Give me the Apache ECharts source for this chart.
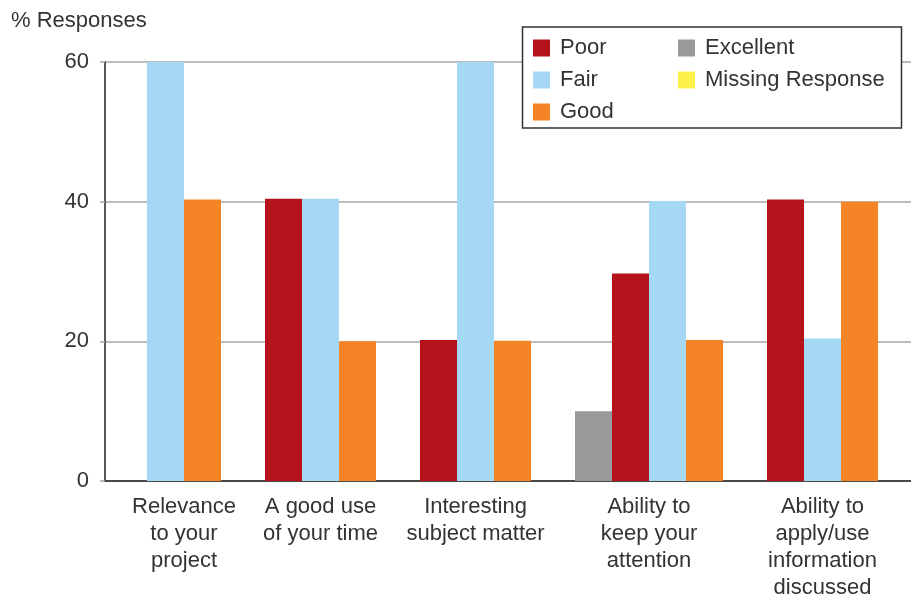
<!DOCTYPE html>
<html>
<head>
<meta charset="utf-8">
<script src="https://cdn.jsdelivr.net/npm/echarts@6/dist/echarts.min.js"></script>
<style>html,body{margin:0;padding:0;background:#fff;}#c{width:911px;height:601px;}</style>
</head>
<body>
<div id="c"></div>
<script>
// ---- data ----
const categories = ['Relevance\nto your\nproject', 'A good use\nof your time', 'Interesting\nsubject matter', 'Ability to\nkeep your\nattention', 'Ability to\napply/use\ninformation\ndiscussed'];
const seriesNames = ['Excellent', 'Poor', 'Fair', 'Good', 'Missing Response'];
const excellent = [0, 0, 0, 10, 0];
const poor = [0, 40.4, 20.2, 29.7, 40.3];
const fair = [60, 40.4, 60, 40.1, 20.4];
const good = [40.3, 20.0, 20.1, 20.2, 40.0];
const missing = [0, 0, 0, 0, 0];
const yTicks = [0, 20, 40, 60];

// ---- layout (in bar-width units) ----
const barPx = 37;
const leftPad = 42 / barPx;
const groupGap = 44 / barPx;
const plotWidthPx = 806;
const xMax = plotWidthPx / barPx;

const values = [excellent, poor, fair, good, missing];
const colors = ['#97999b', '#b5121b', '#a5d8f3', '#f58426', '#fdf04a'];

// compute positions: only non-zero bars are placed, packed within each category
const seriesData = values.map(() => []);
const centers = [];
let cursor = leftPad;
categories.forEach((c, ci) => {
  let j = 0;
  values.forEach((arr, si) => {
    if (arr[ci] > 0) {
      seriesData[si].push([cursor + j + 0.5, arr[ci]]);
      j++;
    }
  });
  centers.push(cursor + j / 2);
  cursor += j + groupGap;
});

const font = '"Liberation Sans", Arial, sans-serif';
const txt = '#333333';

const chart = echarts.init(document.getElementById('c'), null, {renderer: 'canvas'});
chart.setOption({
  animation: false,
  backgroundColor: '#ffffff',
  title: {
    text: '% Responses', left: 6, top: 5,
    textStyle: {fontFamily: font, fontSize: 22, fontWeight: 'normal', color: txt}
  },
  grid: {left: 105, right: 0, top: 62, bottom: 118, containLabel: false},
  graphic: [{
    type: 'rect', z: 5,
    shape: {x: 522.5, y: 27, width: 379, height: 101},
    style: {fill: '#ffffff', stroke: '#333333', lineWidth: 1.5}
  }],
  legend: [
    {
      z: 10, orient: 'vertical', left: 533, top: 37, padding: 0,
      itemWidth: 17, itemHeight: 17, itemGap: 10,
      icon: 'rect',
      data: ['Poor', 'Fair', 'Good'],
      textStyle: {fontFamily: font, fontSize: 22, color: txt, lineHeight: 20, padding: [0, 0, 0, 5]}
    },
    {
      z: 10, orient: 'vertical', left: 678, top: 37, padding: 0,
      itemWidth: 17, itemHeight: 17, itemGap: 10,
      icon: 'rect',
      data: ['Excellent', 'Missing Response'],
      textStyle: {fontFamily: font, fontSize: 22, color: txt, lineHeight: 20, padding: [0, 0, 0, 5]}
    }
  ],
  xAxis: {
    type: 'value', min: 0, max: xMax,
    axisLine: {show: true, onZero: true, lineStyle: {color: '#222', width: 1.5}},
    axisTick: {show: false},
    splitLine: {show: false},
    axisLabel: {
      customValues: centers,
      margin: 12,
      fontFamily: font, fontSize: 22, color: txt, lineHeight: 27,
      formatter: function (v) {
        let best = 0, d = Infinity;
        centers.forEach((c, i) => { if (Math.abs(c - v) < d) { d = Math.abs(c - v); best = i; } });
        return categories[best];
      }
    }
  },
  yAxis: {
    type: 'value', min: yTicks[0], max: yTicks[yTicks.length - 1], interval: 20,
    axisLine: {show: true, lineStyle: {color: '#222', width: 1.5}},
    axisTick: {show: true, length: 5, lineStyle: {color: '#a6a6a6', width: 1.5}},
    splitLine: {show: true, lineStyle: {color: '#a6a6a6', width: 1.5}},
    axisLabel: {margin: 16, fontFamily: font, fontSize: 22, color: txt}
  },
  series: seriesNames.map((name, si) => ({
    name: name, type: 'bar',
    data: seriesData[si],
    barWidth: barPx, barGap: '-100%',
    itemStyle: {color: colors[si]},
    emphasis: {disabled: true}
  }))
});
</script>
</body>
</html>
